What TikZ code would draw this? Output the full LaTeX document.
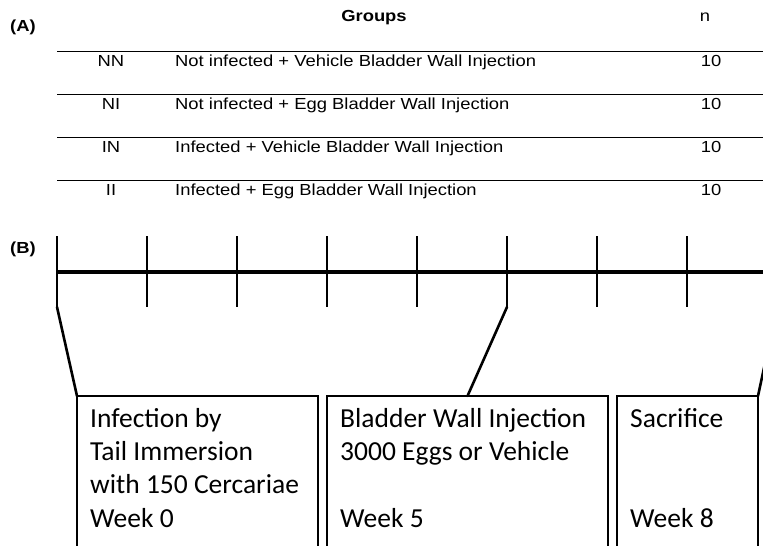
\documentclass[tikz,border=0pt]{standalone}
\usepackage{fontspec}
\setmainfont{Liberation Sans}
\newfontfamily\tabfont{Liberation Sans}[FakeStretch=1.15]
\newfontfamily\boxfont{Carlito}
\usetikzlibrary{positioning,calc}

\begin{document}
\begin{tikzpicture}[x=1pt,y=-1pt,
  cell/.style={font=\tabfont\fontsize{16}{19}\selectfont,inner sep=0pt},
  head/.style={cell,font=\tabfont\bfseries\fontsize{16}{19}\selectfont},
  rowrule/.style={line width=1.8pt},
  axis/.style={line width=3.2pt},
  tick/.style={line width=2.8pt},
  link/.style={line width=2.6pt,line cap=round},
  stage/.style={draw,line width=2.4pt,outer sep=0pt,inner sep=0pt,minimum height=220pt,anchor=north west},
  stagetxt/.style={font=\boxfont\fontsize{27.5}{33.3}\selectfont,align=left,inner sep=0pt,anchor=north west}
]
\useasboundingbox (0,0) rectangle (763,546);
\clip (0,0) rectangle (763,546);

% (A) group table
\node[head,anchor=base west] (lblA) at (10,31) {(A)};
\node[head,anchor=base] (groups) at (374,21) {Groups};
\node[cell,anchor=base] (ncol) at (705,21) {n};
\foreach \code/\desc [count=\i] in {NN/Not infected + Vehicle Bladder Wall Injection,
    NI/Not infected + Egg Bladder Wall Injection,
    IN/Infected + Vehicle Bladder Wall Injection,
    II/Infected + Egg Bladder Wall Injection}{
  \draw[rowrule] (57,{8.5+43*\i}) -- (763,{8.5+43*\i});
  \node[cell,anchor=base] (code\i) at (111,{23+43*\i}) {\code};
  \node[cell,anchor=base west] (desc\i) at (175,{23+43*\i}) {\desc};
  \node[cell,anchor=base] (n\i) at (711,{23+43*\i}) {10};
}

% (B) timeline, one tick per week
\node[head,anchor=base west] (lblB) at (10,253) {(B)};
\foreach \k in {0,...,8}{
  \coordinate (t\k) at ({57+90*\k},272);
  \coordinate (b\k) at ({57+90*\k},307);
}
\draw[axis] (t0) -- ($(t8)+(20,0)$);
\foreach \k in {0,...,8}
  \draw[tick] ($(t\k)+(0,-36)$) -- (b\k);

% stages
\node[stage,minimum width=241pt] (infect) at (77,396) {};
\node[stage,minimum width=281pt,right=9pt of infect] (inject) {};
\node[stage,minimum width=141pt,right=9pt of inject] (sacr) {};
\node[stagetxt] (infecttxt) at ($(infect.north west)+(13,12)$) {Infection by\\Tail Immersion\\with 150 Cercariae\\Week 0};
\node[stagetxt] (injecttxt) at ($(inject.north west)+(13,12)$) {Bladder Wall Injection\\3000 Eggs or Vehicle\\\mbox{}\\Week 5};
\node[stagetxt] (sacrtxt) at ($(sacr.north west)+(13,12)$) {Sacrifice\\\mbox{}\\\mbox{}\\Week 8};

\draw[link] (b0) -- (infect.north west);
\draw[link] (b5) -- (inject.north);
\draw[link] (b8) -- (sacr.north east);
\end{tikzpicture}
\end{document}
